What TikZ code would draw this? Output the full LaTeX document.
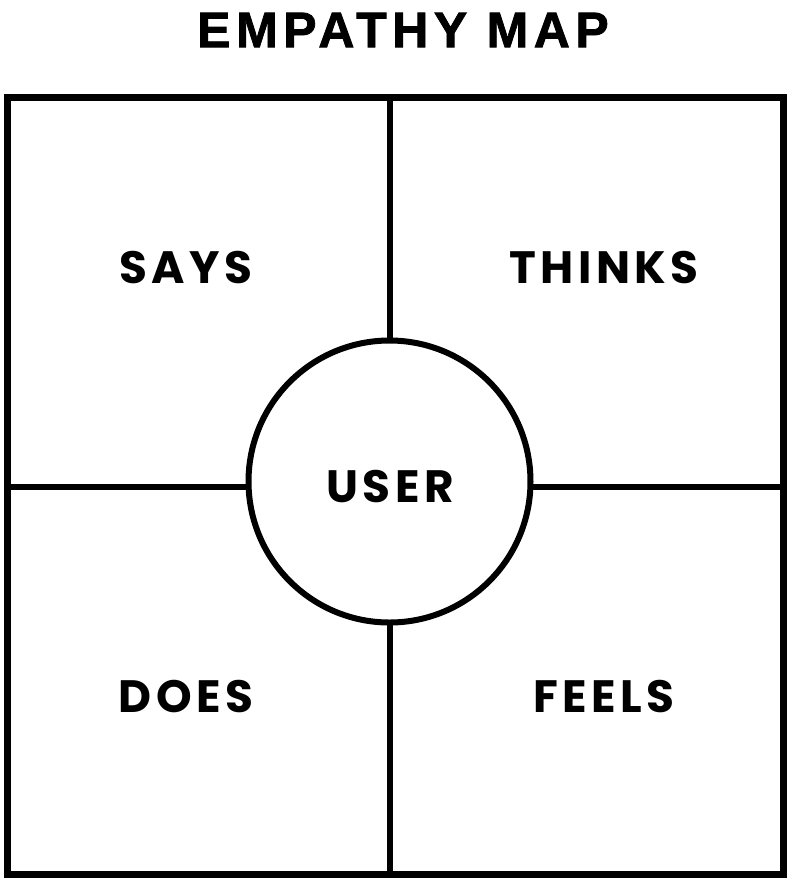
\documentclass[tikz,border=0pt]{standalone}
\usepackage{fontspec}
\newfontfamily\titlefont{Liberation Sans Bold}[LetterSpace=11, FakeBold=1.5]
\newfontfamily\labelfont{Poppins}[LetterSpace=10]
\usetikzlibrary{positioning}

\tikzset{every picture/.style={line width=0.75pt}}
\tikzset{
	frame line/.style={line width=5.25},
	grid line/.style={line width=4.5},
	quad label/.style={inner sep=0, font=\labelfont\bfseries\fontsize{34}{34}\selectfont},
	title label/.style={inner sep=0, font=\titlefont\fontsize{37.5}{37.5}\selectfont}}

\begin{document}
\begin{tikzpicture}[x=0.75pt,y=0.75pt,yscale=-1,xscale=1]
	\path[use as bounding box] (0,0) rectangle (799,894);

	% Text Node
	\node[title label] (title) at (403,30) {EMPATHY MAP};

	%Shape: Rectangle [id:frame]
	\draw[frame line] (7,97.5) rectangle (783,874);
	%Straight Lines [id:vertical]
	\coordinate (top) at (389.5,97.5);
	\coordinate (bottom) at (389.5,874);
	\draw[grid line] (top) -- (bottom);
	%Straight Lines [id:horizontal]
	\coordinate (left) at (7,487);
	\coordinate (right) at (783,487);
	\draw[grid line] (left) -- (right);
	%Shape: Circle [id:user]
	\node[circle, draw, grid line, fill=white, minimum size=211.5pt, inner sep=0] (user) at (389.5,481.5) {};

	% Text Node
	\node[quad label] (usertext) at (390,487) {USER};
	% Text Node
	\node[quad label] (says) at (186,268) {SAYS};
	% Text Node
	\node[quad label] (thinks) at (604,268) {THINKS};
	% Text Node
	\node[quad label] (does) at (186,697) {DOES};
	% Text Node
	\node[quad label] (feels) at (604,697) {FEELS};

\end{tikzpicture}
\end{document}
